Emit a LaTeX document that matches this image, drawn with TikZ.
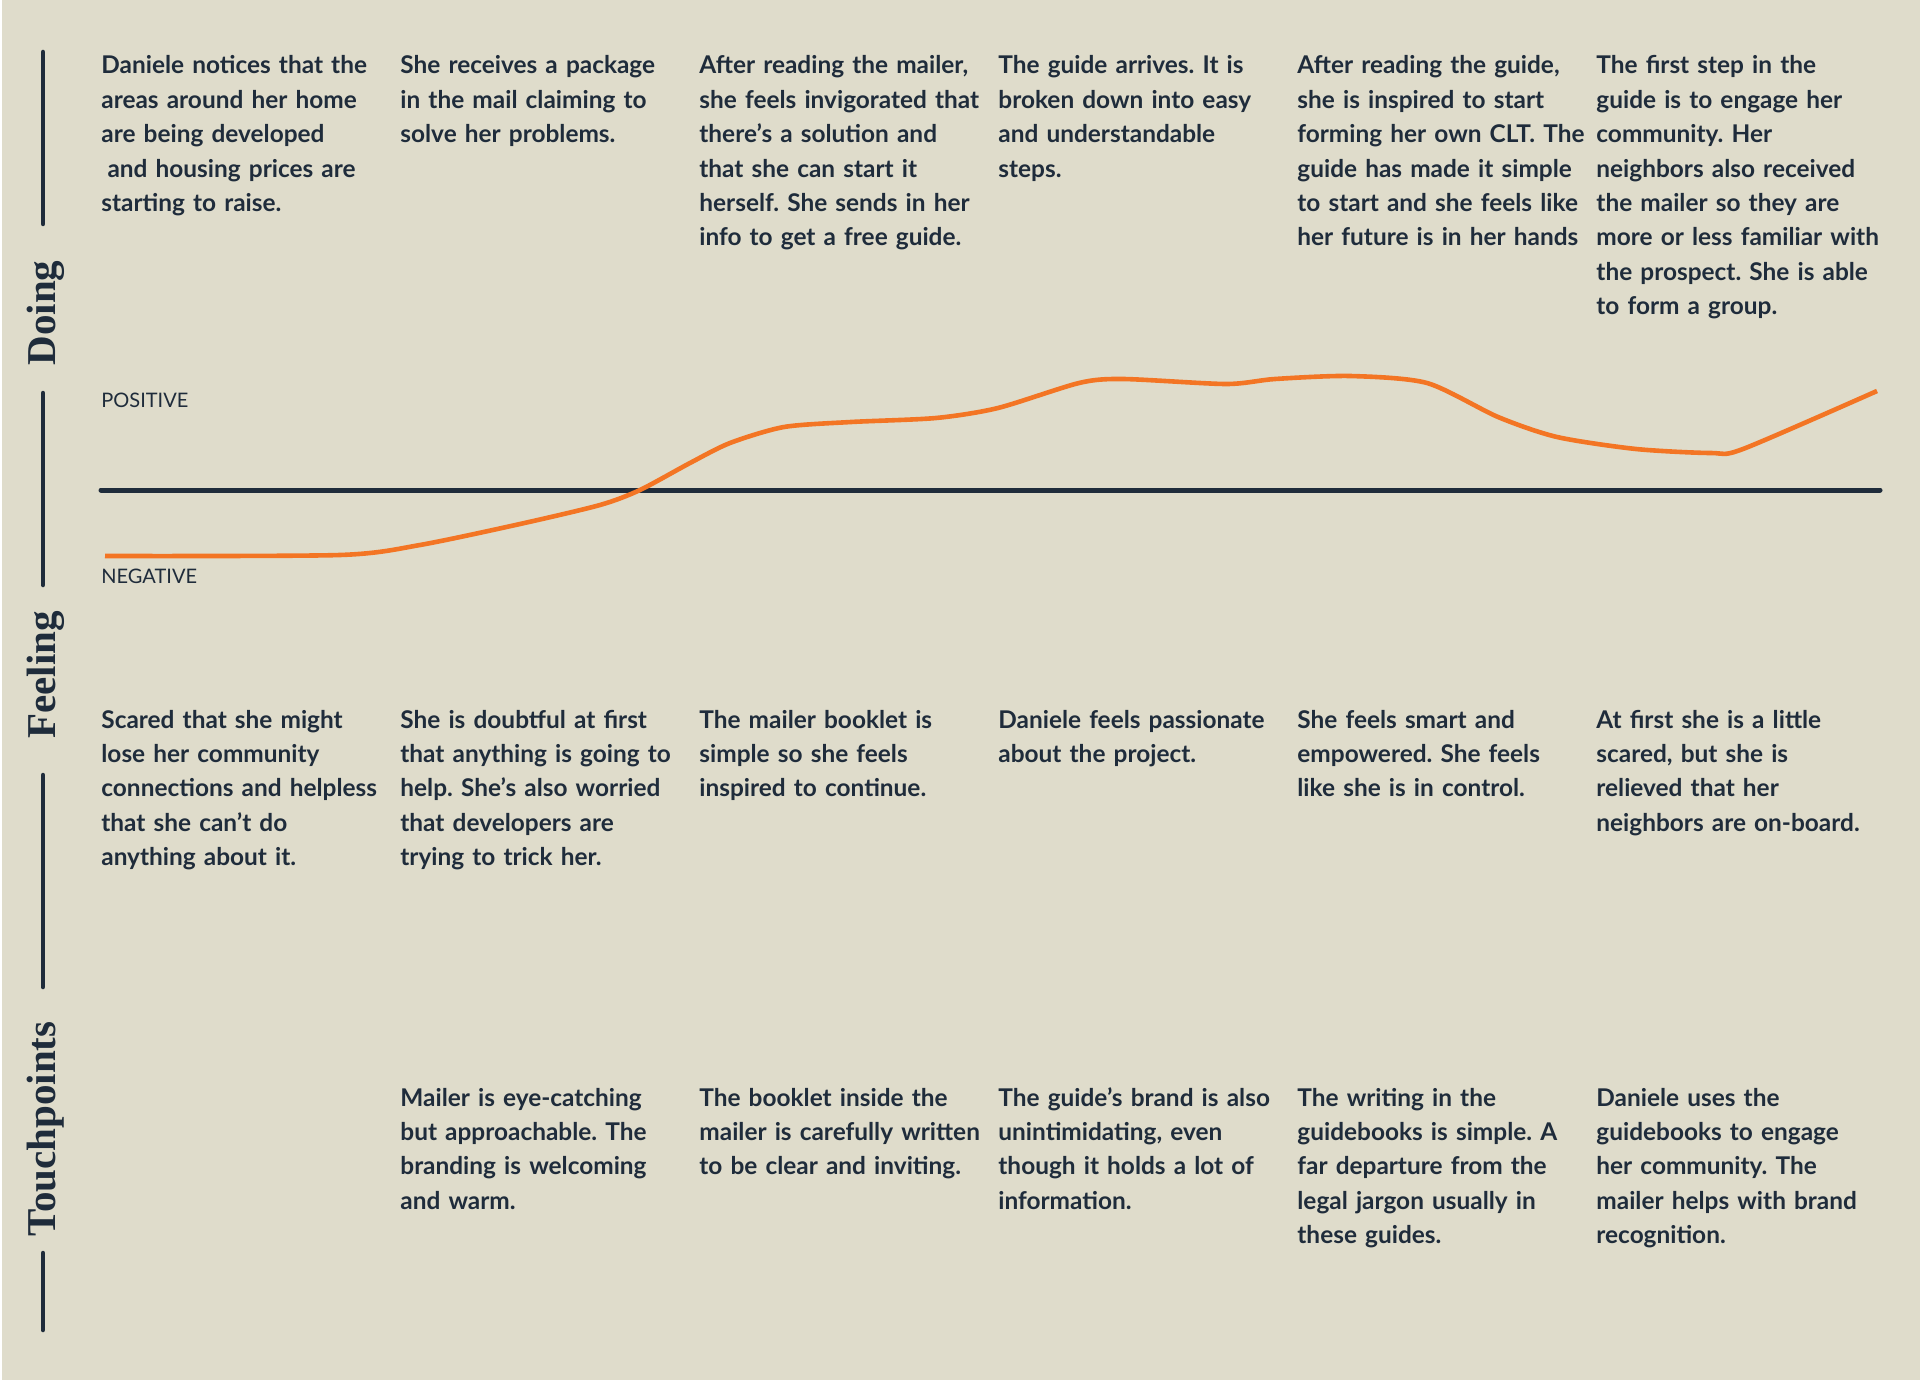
\documentclass[tikz,border=0pt]{standalone}
\usepackage{fontspec}
\setmainfont{Lato}
\newfontfamily\headfont{Liberation Serif}
\definecolor{paper}{HTML}{DFDCCB}
\definecolor{ink}{HTML}{1F2C3B}
\definecolor{mood}{HTML}{F37524}
\frenchspacing

\begin{document}
\begin{tikzpicture}[x=0.5pt,y=-0.5pt,
    cardtext/.style={anchor=base west,inner sep=0pt,text width=160pt,align=left,text=ink,
      font=\bfseries\fontsize{12.2}{17.2}\selectfont},
    lane/.style={rotate=90,anchor=base,inner sep=0pt,text=ink,
      font=\headfont\bfseries\fontsize{20.5}{20.5}\selectfont},
    rule/.style={ink,line width=2.25pt,line cap=round},
    scalelabel/.style={anchor=west,inner sep=0pt,text=ink,font=\fontsize{10}{12}\selectfont}]

  \fill[paper] (0,0) rectangle (1920,1380);
  \fill[white] (0,0) rectangle (2,1380);
  \useasboundingbox (0,0) rectangle (1920,1380);

  % lanes on the left
  \draw[rule] (43,52) -- (43,224);
  \draw[rule] (43,393) -- (43,585);
  \draw[rule] (43,775) -- (43,987);
  \draw[rule] (43,1253) -- (43,1330);
  \node[lane] (lDoing) at (55,313) {Doing};
  \node[lane] (lFeeling) at (55,675) {Feeling};
  \node[lane] (lTouch) at (55,1129) {Touchpoints};

  % doing
  \node[cardtext] (doing1) at (101,74) {Daniele notices that the\\areas around her home\\are being developed\\\hspace{0.25em}and housing prices are\\starting to raise.};
  \node[cardtext] (doing2) at (400,74) {She receives a package\\in the mail claiming to\\solve her problems.};
  \node[cardtext] (doing3) at (699,74) {After reading the mailer,\\she feels invigorated that\\there’s a solution and\\that she can start it\\herself. She sends in her\\info to get a free guide.};
  \node[cardtext] (doing4) at (998,74) {The guide arrives. It is\\broken down into easy\\and understandable\\steps.};
  \node[cardtext] (doing5) at (1297,74) {After reading the guide,\\she is inspired to start\\forming her own CLT. The\\guide has made it simple\\to start and she feels like\\her future is in her hands};
  \node[cardtext] (doing6) at (1596,74) {The first step in the\\guide is to engage her\\community. Her\\neighbors also received\\the mailer so they are\\more or less familiar with\\the prospect. She is able\\to form a group.};

  % feeling scale
  \node[scalelabel] (pos) at (101,400) {POSITIVE};
  \node[scalelabel] (neg) at (101,576) {NEGATIVE};
  \coordinate (axisL) at (101,490);
  \coordinate (axisR) at (1880,490);
  \draw[ink,line width=2.5pt,line cap=round] (axisL) -- (axisR);
  \draw[mood,line width=2.3pt] plot[smooth,tension=0.45] coordinates {
    (105,556) (340,555) (420,545) (520,524) (600,505) (640,490) (690,463)
    (730,443) (784,427) (851,422) (936,418) (998,408) (1079,383) (1123,379)
    (1226,384) (1275,379) (1350,376) (1427,383) (1498,417) (1557,437)
    (1636,449) (1711,453) (1743,449) (1877,391)};

  % feeling
  \node[cardtext] (feel1) at (101,728) {Scared that she might\\lose her community\\connections and helpless\\that she can’t do\\anything about it.};
  \node[cardtext] (feel2) at (400,728) {She is doubtful at first\\that anything is going to\\help. She’s also worried\\that developers are\\trying to trick her.};
  \node[cardtext] (feel3) at (699,728) {The mailer booklet is\\simple so she feels\\inspired to continue.};
  \node[cardtext] (feel4) at (998,728) {Daniele feels passionate\\about the project.};
  \node[cardtext] (feel5) at (1297,728) {She feels smart and\\empowered. She feels\\like she is in control.};
  \node[cardtext] (feel6) at (1596,728) {At first she is a little\\scared, but she is\\relieved that her\\neighbors are on-board.};

  % touchpoints
  \node[cardtext] (touch2) at (400,1106) {Mailer is eye-catching\\but approachable. The\\branding is welcoming\\and warm.};
  \node[cardtext] (touch3) at (699,1106) {The booklet inside the\\mailer is carefully written\\to be clear and inviting.};
  \node[cardtext] (touch4) at (998,1106) {The guide’s brand is also\\unintimidating, even\\though it holds a lot of\\information.};
  \node[cardtext] (touch5) at (1297,1106) {The writing in the\\guidebooks is simple. A\\far departure from the\\legal jargon usually in\\these guides.};
  \node[cardtext] (touch6) at (1596,1106) {Daniele uses the\\guidebooks to engage\\her community. The\\mailer helps with brand\\recognition.};
\end{tikzpicture}
\end{document}
